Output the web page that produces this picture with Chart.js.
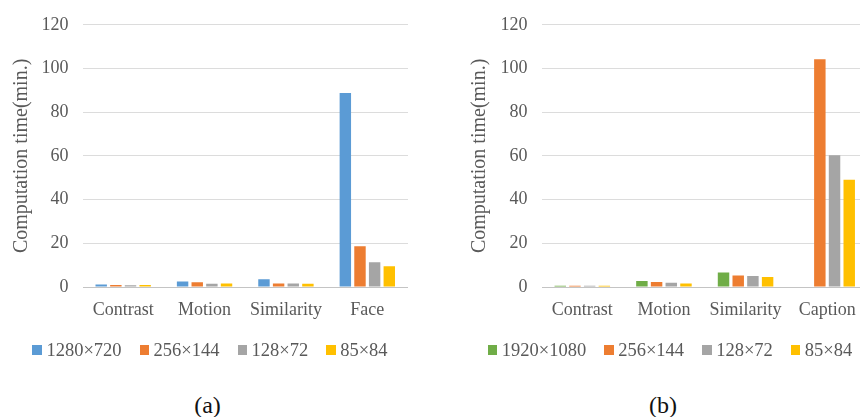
<!DOCTYPE html>
<html>
<head>
<meta charset="utf-8">
<script src="https://cdn.jsdelivr.net/npm/chart.js@4.4.1/dist/chart.umd.min.js"></script>
<style>
  html, body { margin: 0; padding: 0; background: #fff; overflow: hidden; width: 860px; height: 417px; }
  .panel { position: absolute; top: 0; height: 417px; }
  #panelA { left: 0; width: 420px; }
  #panelB { left: 440px; width: 460px; }
  .panel canvas { position: absolute; left: 0; top: 0; }
  .legend { position: absolute; left: 0; right: 0; top: 339px; display: flex; justify-content: center;
            font: 18.5px "Liberation Serif", "Times New Roman", serif; color: #595959; line-height: 22px; }
  .item { display: flex; align-items: center; margin: 0 9px; white-space: nowrap; }
  .swatch { width: 9.5px; height: 9.5px; margin-right: 4.5px; flex: none; }
  .caption { position: absolute; top: 391px; text-align: center; font: 24px "Liberation Serif", "Times New Roman", serif;
             color: #111; line-height: 28px; }
  #capA { left: 0; width: 415px; }
  #capB { left: 0; width: 446px; }
</style>
</head>
<body>
<div class="panel" id="panelA">
  <canvas id="chartA" width="420" height="340"></canvas>
  <div class="legend" id="legendA"></div>
  <div class="caption" id="capA">(a)</div>
</div>
<div class="panel" id="panelB">
  <canvas id="chartB" width="460" height="340"></canvas>
  <div class="legend" id="legendB"></div>
  <div class="caption" id="capB">(b)</div>
</div>
<script>
// Panel (a): computation time per feature at each input resolution
const categoriesA = ['Contrast', 'Motion', 'Similarity', 'Face'];
const seriesNamesA = ['1280×720', '256×144', '128×72', '85×84'];
const res1280 = [1.2, 2.5, 3.6, 88.8];
const res256A = [0.9, 2.2, 1.6, 18.7];
const res128A = [0.8, 1.5, 1.6, 11.3];
const res85A  = [0.9, 1.6, 1.5, 9.5];

// Panel (b): same features, caption instead of face
const categoriesB = ['Contrast', 'Motion', 'Similarity', 'Caption'];
const seriesNamesB = ['1920×1080', '256×144', '128×72', '85×84'];
const res1920 = [0.6, 2.7, 6.6, null];
const res256B = [0.6, 2.3, 5.3, 104.2];
const res128B = [0.6, 1.9, 5.0, 60.3];
const res85B  = [0.6, 1.6, 4.6, 49.1];

const yTicks = [0, 20, 40, 60, 80, 100, 120];
const axisTitle = 'Computation time(min.)';

const colorsA = ['#5B9BD5', '#ED7D31', '#A5A5A5', '#FFC000'];
const colorsB = ['#70AD47', '#ED7D31', '#A5A5A5', '#FFC000'];

const FONT = '"Liberation Serif", "Times New Roman", serif';
const TEXT = '#595959';

function buildChart(canvasId, labels, names, series, colors, axisWidth, padRight, titlePad) {
  return new Chart(document.getElementById(canvasId), {
    type: 'bar',
    data: {
      labels: labels,
      datasets: names.map((name, i) => ({
        label: name,
        data: series[i],
        backgroundColor: colors[i],
        borderWidth: 0,
        categoryPercentage: 0.72,
        barPercentage: 0.78
      }))
    },
    options: {
      responsive: false,
      animation: false,
      layout: { padding: { top: 24, right: padRight, bottom: 8, left: 0 } },
      plugins: { legend: { display: false }, tooltip: { enabled: false } },
      scales: {
        x: {
          grid: { display: false, drawTicks: false },
          border: { display: false },
          ticks: { color: TEXT, font: { family: FONT, size: 18 }, padding: 12 },
          afterFit(scale) { scale.height = 45; }
        },
        y: {
          min: yTicks[0],
          max: yTicks[yTicks.length - 1],
          afterBuildTicks(scale) { scale.ticks = yTicks.map(v => ({ value: v })); },
          ticks: { color: TEXT, font: { family: FONT, size: 18 }, padding: 14 },
          grid: {
            drawTicks: false,
            lineWidth: 1,
            color: ctx => (ctx.tick && ctx.tick.value === 0 ? '#c4c4c4' : '#dcdcdc')
          },
          border: { display: false },
          title: {
            display: true,
            text: axisTitle,
            color: TEXT,
            font: { family: FONT, size: 20 },
            padding: { top: titlePad, bottom: 0 }
          },
          afterFit(scale) { scale.width = axisWidth; }
        }
      }
    }
  });
}

function buildLegend(elId, names, colors) {
  const el = document.getElementById(elId);
  names.forEach((name, i) => {
    const item = document.createElement('div');
    item.className = 'item';
    const sw = document.createElement('span');
    sw.className = 'swatch';
    sw.style.background = colors[i];
    const tx = document.createElement('span');
    tx.textContent = name;
    item.appendChild(sw);
    item.appendChild(tx);
    el.appendChild(item);
  });
}

buildChart('chartA', categoriesA, seriesNamesA, [res1280, res256A, res128A, res85A], colorsA, 82.5, 12, 10);
buildChart('chartB', categoriesB, seriesNamesB, [res1920, res256B, res128B, res85B], colorsB, 101.5, 32, 28);
buildLegend('legendA', seriesNamesA, colorsA);
buildLegend('legendB', seriesNamesB, colorsB);
</script>
</body>
</html>
